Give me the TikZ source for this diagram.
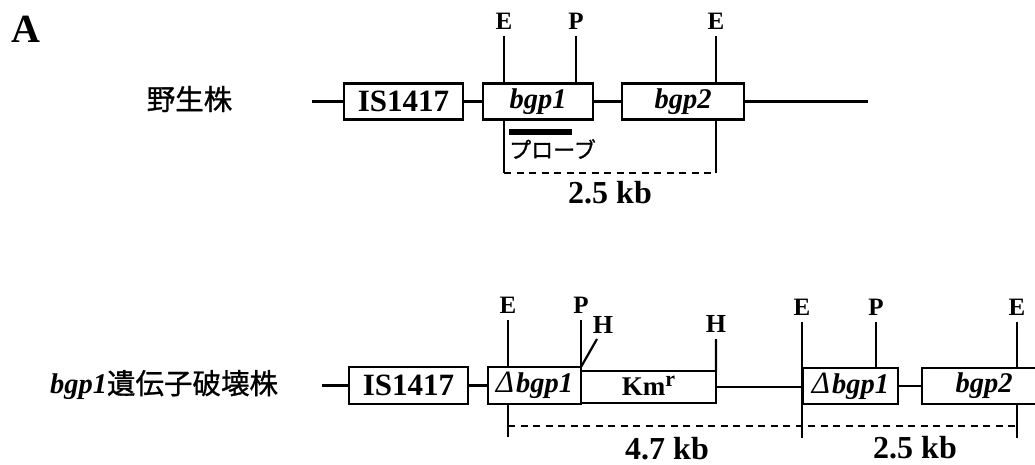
\documentclass[tikz,border=0pt]{standalone}
\usepackage{fontspec}
\setmainfont{Liberation Serif}
\newfontfamily\jpfont[FakeBold=1]{Noto Sans CJK JP}
\usetikzlibrary{positioning}
\newcommand{\dlt}{{\mdseries\fontsize{31}{31}\selectfont Δ}\kern2pt}
\tikzset{
    gene/.style={draw,line width=2.4pt,inner sep=0pt,outer sep=0pt,minimum height=36pt,font=\fontsize{28.5}{28.5}\selectfont\bfseries\itshape},
    isbox/.style={gene,minimum width=119pt,font=\fontsize{31}{31}\selectfont\bfseries},
    site/.style={inner sep=0pt,font=\fontsize{25}{25}\selectfont\bfseries},
    kb/.style={inner sep=0pt,font=\fontsize{32}{32}\selectfont\bfseries},
    strain/.style={inner sep=0pt,font=\fontsize{28.5}{28.5}\selectfont\jpfont},
    dna/.style={line width=2.4pt},
    cut/.style={line width=2.2pt},
    kbline/.style={line width=2pt,dash pattern=on 7pt off 5.5pt}
}

\begin{document}
\begin{tikzpicture}[x=1pt,y=-1pt]
    \useasboundingbox (0,0) rectangle (1035,465);
    \clip (0,0) rectangle (1035,465);
    \node[inner sep=0pt,font=\fontsize{40}{40}\selectfont\bfseries] (A) at (26,29) {A};

    % wild type
    \node[strain] (wt) at (189.5,99) {野生株};
    \coordinate (w0) at (312,101.5);
    \coordinate (w9) at (868,101.5);
    \node[isbox] (wis) at (403.5,101.5) {IS1417};
    \node[gene,minimum width=110pt] (wb1) at (538,101.5) {bgp1};
    \node[gene,minimum width=122pt] (wb2) at (683,101.5) {bgp2};
    \draw[dna] (w0) -- (wis.west) (wis.east) -- (wb1.west) (wb1.east) -- (wb2.west) (wb2.east) -- (w9);

    \foreach \n/\x/\lab in {wE1/504/E,wP/576/P,wE2/716/E} {
        \coordinate (\n) at (\x,36);
        \node[site,above=6pt of \n] (l\n) {\lab};
    }
    \coordinate (wD1) at (504,173);
    \coordinate (wD2) at (716,173);
    \draw[cut] (wE1) -- (wE1 |- wb1.north) (wP) -- (wP |- wb1.north) (wE2) -- (wE2 |- wb2.north);
    \draw[cut] (wb1.south -| wD1) -- (wD1) (wb2.south -| wD2) -- (wD2);
    \draw[kbline] (wD1) -- (wD2);

    \node[fill,inner sep=0pt,minimum width=63pt,minimum height=6.5pt] (probe) at (540.5,132) {};
    \node[inner sep=0pt,anchor=west,font=\fontsize{22}{22}\selectfont\jpfont] (lprobe) at (509,149) {プローブ};
    \node[kb] (w25) at (610,193) {2.5 kb};

    % disruptant
    \node[strain] (mt) at (164,385) {{\rmfamily\bfseries\itshape bgp1}遺伝子破壊株};
    \coordinate (m0) at (322,385.5);
    \node[isbox,minimum height=37pt] (mis) at (408.5,385.5) {IS1417};
    \node[gene,minimum width=93pt,minimum height=37pt] (mb1) at (534.5,385.5) {\dlt bgp1};
    \node[gene,minimum width=135pt,minimum height=32pt,font=\fontsize{27}{27}\selectfont\bfseries] (km) at (648.5,387) {Km\raisebox{9pt}[0pt][0pt]{\fontsize{22}{22}\selectfont r}};
    \node[gene,minimum width=95pt] (mb1b) at (850.5,386) {\dlt bgp1};
    \node[gene,minimum width=124pt] (mb2) at (984,386) {bgp2};
    \draw[dna] (m0) -- (mis.west) (mis.east) -- (mb1.west) (km.east) -- (km.east -| mb1b.west) (mb1b.east) -- (mb2.west);

    \foreach \n/\x/\y/\lab in {mE1/508/320/E,mP1/581/320/P,mE2/802/322/E,mP2/876/322/P,mE3/1017/322/E} {
        \coordinate (\n) at (\x,\y);
        \node[site,above=6pt of \n] (l\n) {\lab};
    }
    \coordinate (mH2) at (716,339);
    \coordinate (mH1) at (597,339);
    \node[site,font=\fontsize{26}{26}\selectfont\bfseries] (lmH1) at (603,325) {H};
    \node[site,font=\fontsize{26}{26}\selectfont\bfseries,above=6pt of mH2] (lmH2) {H};
    \coordinate (mD1) at (508,437);
    \coordinate (mD2) at (802,438);
    \coordinate (mD3) at (1017,438);
    \draw[cut] (mE1) -- (mE1 |- mb1.north) (mP1) -- (mP1 |- mb1.north) (mP2) -- (mP2 |- mb1b.north) (mE3) -- (mE3 |- mb2.north);
    \draw[cut] (mE2) -- (mD2) (mb1.south -| mD1) -- (mD1) (mb2.south -| mD3) -- (mD3);
    \draw[cut] (mH2) -- (mH2 |- km.north) (mb1.north east) -- (mH1);
    \coordinate (k1) at (508,426);
    \coordinate (k2) at (1017,426);
    \draw[kbline] (k1) -- (k2);
    \node[kb] (m47) at (667,449) {4.7 kb};
    \node[kb] (m25) at (915,448) {2.5 kb};
\end{tikzpicture}
\end{document}
